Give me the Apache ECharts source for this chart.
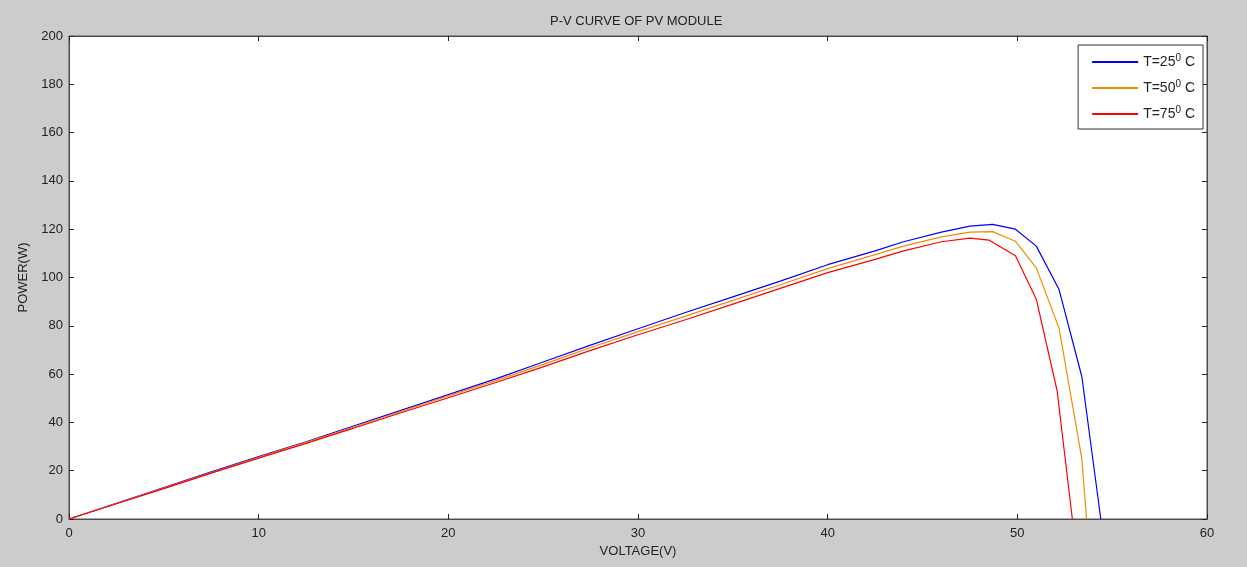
<!DOCTYPE html>
<html>
<head>
<meta charset="utf-8">
<script src="https://cdn.jsdelivr.net/npm/echarts@6/dist/echarts.min.js"></script>
<style>
  html, body { margin: 0; padding: 0; background: #cccccc; }
  #main { width: 1247px; height: 567px; }
</style>
</head>
<body>
<div id="main"></div>
<script>
// P-V curve data (voltage V, power W)
var seriesNames = ['T=25{sup|0} C', 'T=50{sup|0} C', 'T=75{sup|0} C'];
var seriesColors = ['#0000ff', '#f08c00', '#ff0000'];

var v25 = [0, 2.5, 5, 7.5, 10, 12.5, 15, 17.5, 20, 22.5, 25, 27.5, 30, 32.5, 35, 37.5, 40, 42.5, 44, 46, 47.5, 48.7, 49.9, 51, 52.2, 53.4, 54.4];
var p25 = [0, 6.5, 13, 19.5, 25.8, 32, 38.5, 45, 51.5, 58, 65, 72, 78.8, 85.5, 92, 98.5, 105.3, 111, 114.8, 118.8, 121.3, 122, 120, 113, 95, 59, 0];

var v50 = [0, 2.5, 5, 7.5, 10, 12.5, 15, 17.5, 20, 22.5, 25, 27.5, 30, 32.5, 35, 37.5, 40, 42.5, 44, 46, 47.5, 48.7, 49.9, 51, 52.2, 53.4, 53.65];
var p50 = [0, 6.4, 12.8, 19.2, 25.5, 31.7, 38, 44.5, 51, 57.3, 64, 71, 77.6, 84, 90.5, 97, 103.7, 109.5, 113, 116.8, 118.8, 119, 115, 104, 79, 25, 0];

var v75 = [0, 2.5, 5, 7.5, 10, 12.5, 15, 17.5, 20, 22.5, 25, 27.5, 30, 32.5, 35, 37.5, 40, 42.5, 44, 46, 47.5, 48.5, 49.9, 51, 52.1, 52.9];
var p75 = [0, 6.3, 12.6, 19, 25.2, 31.3, 37.6, 44, 50.2, 56.5, 63, 69.8, 76.3, 82.5, 89, 95.5, 102, 107.5, 111, 114.8, 116.3, 115.5, 109, 91, 53, 0];

var xTicks = [0, 10, 20, 30, 40, 50, 60];
var yTicks = [0, 20, 40, 60, 80, 100, 120, 140, 160, 180, 200];

function pairs(xs, ys) {
    var out = [];
    for (var i = 0; i < xs.length; i++) {
        out.push([xs[i], ys[i]]);
    }
    return out;
}

var chart = echarts.init(document.getElementById('main'));
var font = 'Liberation Sans, Arial, sans-serif';
var axisColor = '#4d4d4d';

var baseAxis = {
    axisLine: { show: true, onZero: false, lineStyle: { color: axisColor, width: 1 } },
    axisTick: { show: true, inside: true, length: 5, lineStyle: { color: '#222' } },
    splitLine: { show: false }
};

var option = {
    backgroundColor: '#cccccc',
    animation: false,
    title: {
        text: 'P-V CURVE OF PV MODULE',
        left: 545,
        top: 10,
        textStyle: { fontFamily: font, fontSize: 13, fontWeight: 'normal', color: '#222' }
    },
    legend: {
        orient: 'vertical',
        right: 44,
        top: 45,
        padding: [8, 8, 8, 13],
        itemWidth: 46,
        itemHeight: 14,
        itemGap: 10,
        backgroundColor: '#ffffff',
        borderColor: '#333',
        borderWidth: 1,
        borderRadius: 0,
        itemStyle: { opacity: 0 },
        data: seriesNames,
        textStyle: {
            fontFamily: font,
            fontSize: 14,
            color: '#222',
            rich: {
                sup: { fontFamily: font, fontSize: 10, color: '#222', verticalAlign: 'top', padding: [0, 0, 8, 0] }
            }
        }
    },
    grid: {
        left: 69,
        right: 40,
        top: 36,
        bottom: 48,
        show: true,
        backgroundColor: '#ffffff',
        borderColor: axisColor,
        borderWidth: 1
    },
    xAxis: [
        echarts.util.merge({
            type: 'value',
            min: 0,
            max: 60,
            interval: 10,
            position: 'bottom',
            name: 'VOLTAGE(V)',
            nameLocation: 'middle',
            nameGap: 24,
            nameTextStyle: { fontFamily: font, fontSize: 13, color: '#222' },
            axisLabel: {
                margin: 8,
                fontFamily: font,
                fontSize: 13,
                color: '#222',
                formatter: function (v) { return xTicks.indexOf(v) >= 0 ? String(v) : ''; }
            }
        }, baseAxis, true),
        echarts.util.merge({
            type: 'value',
            min: 0,
            max: 60,
            interval: 10,
            position: 'top',
            axisLabel: { show: false }
        }, baseAxis, true)
    ],
    yAxis: [
        echarts.util.merge({
            type: 'value',
            min: 0,
            max: 200,
            interval: 20,
            position: 'left',
            name: 'POWER(W)',
            nameLocation: 'middle',
            nameGap: 39,
            nameTextStyle: { fontFamily: font, fontSize: 13, color: '#222' },
            axisLabel: {
                margin: 6,
                fontFamily: font,
                fontSize: 13,
                color: '#222',
                formatter: function (v) { return yTicks.indexOf(v) >= 0 ? String(v) : ''; }
            }
        }, baseAxis, true),
        echarts.util.merge({
            type: 'value',
            min: 0,
            max: 200,
            interval: 20,
            position: 'right',
            axisLabel: { show: false }
        }, baseAxis, true)
    ],
    series: [
        { name: seriesNames[0], type: 'line', data: pairs(v25, p25) },
        { name: seriesNames[1], type: 'line', data: pairs(v50, p50) },
        { name: seriesNames[2], type: 'line', data: pairs(v75, p75) }
    ].map(function (s, i) {
        s.symbol = 'none';
        s.color = seriesColors[i];
        s.lineStyle = { color: seriesColors[i], width: 1.2 };
        s.z = 3 + i;
        return s;
    })
};

chart.setOption(option);
</script>
</body>
</html>
